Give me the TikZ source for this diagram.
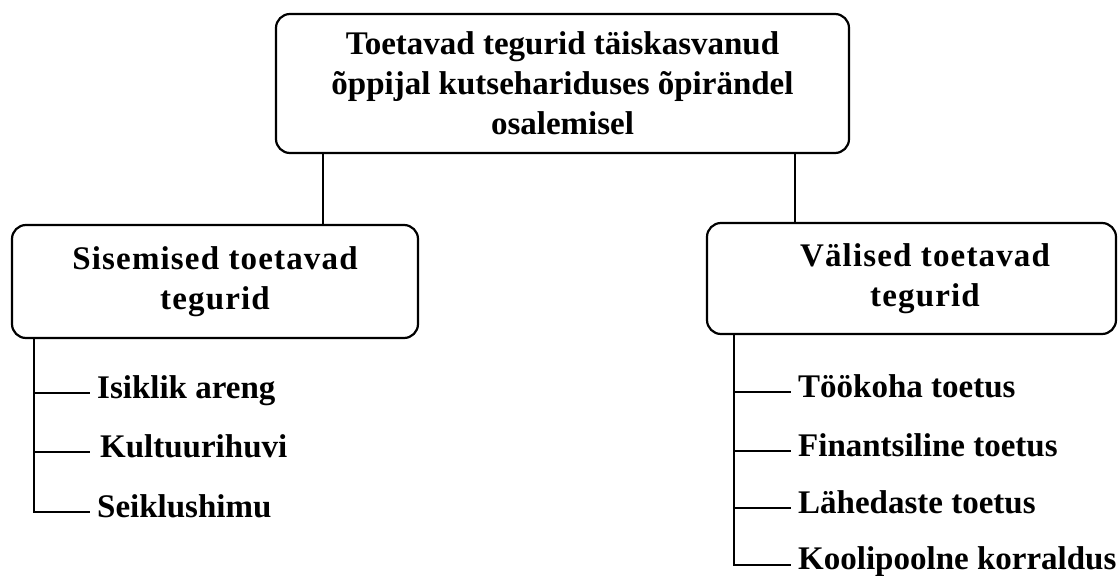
\documentclass[tikz,border=0pt]{standalone}
\usepackage{fontspec}
\setmainfont{Liberation Serif}
\newfontfamily\spacedfont[LetterSpace=3.5]{Liberation Serif}
\begin{document}
\begin{tikzpicture}[x=1pt,y=-1pt,
  box/.style={draw, line width=2.2pt, rounded corners=14pt, align=center, inner sep=0pt,
    font=\fontsize{33}{40}\selectfont\bfseries},
  subbox/.style={box, font=\spacedfont\fontsize{33}{40}\selectfont\bfseries},
  link/.style={line width=2pt},
  item/.style={anchor=base west, inner sep=0pt, font=\fontsize{33}{40}\selectfont\bfseries}]
\useasboundingbox (0,0) rectangle (1120,576);
% boxes
\node[box, minimum width=573pt, minimum height=139pt] (top) at (562.5,83.5)
  {Toetavad tegurid täiskasvanud\\õppijal kutsehariduses õpirändel\\osalemisel};
\node[subbox, minimum width=406pt, minimum height=113pt] (lbox) at (215,281.5)
  {Sisemised toetavad\\tegurid};
\node[subbox, minimum width=409pt, minimum height=111pt] (rbox) at (911.5,278.5)
  {\hspace*{27pt}\begin{tabular}{@{}c@{}}Välised toetavad\\tegurid\end{tabular}};
% top connectors
\draw[link] (top.south west) ++(48,0) coordinate (ta) -- (ta |- lbox.north);
\draw[link] (top.south west) ++(520,0) coordinate (tb) -- (tb |- rbox.north);
% left items
\node[item] (i1) at (97,398) {Isiklik areng};
\node[item] (i2) at (100,457) {Kultuurihuvi};
\node[item] (i3) at (97,517) {Seiklushimu};
\coordinate (le1) at ([shift={(-7,-5)}]i1.base west);
\coordinate (le2) at ([shift={(-10,-5)}]i2.base west);
\coordinate (le3) at ([shift={(-7,-5)}]i3.base west);
\draw[link] (lbox.south west) ++(23,0) coordinate (lt) |- (le3);
\draw[link] (lt |- le1) -- (le1);
\draw[link] (lt |- le2) -- (le2);
% right items
\node[item] (j1) at (798,397) {Töökoha toetus};
\node[item] (j2) at (798,456) {Finantsiline toetus};
\node[item] (j3) at (798,513) {Lähedaste toetus};
\node[item] (j4) at (798,569) {Koolipoolne korraldus};
\coordinate (re1) at ([shift={(-7,-5)}]j1.base west);
\coordinate (re2) at ([shift={(-7,-5)}]j2.base west);
\coordinate (re3) at ([shift={(-7,-5)}]j3.base west);
\coordinate (re4) at ([shift={(-7,-4)}]j4.base west);
\draw[link] (rbox.south west) ++(28,0) coordinate (rt) |- (re4);
\draw[link] (rt |- re1) -- (re1);
\draw[link] (rt |- re2) -- (re2);
\draw[link] (rt |- re3) -- (re3);
\end{tikzpicture}
\end{document}
